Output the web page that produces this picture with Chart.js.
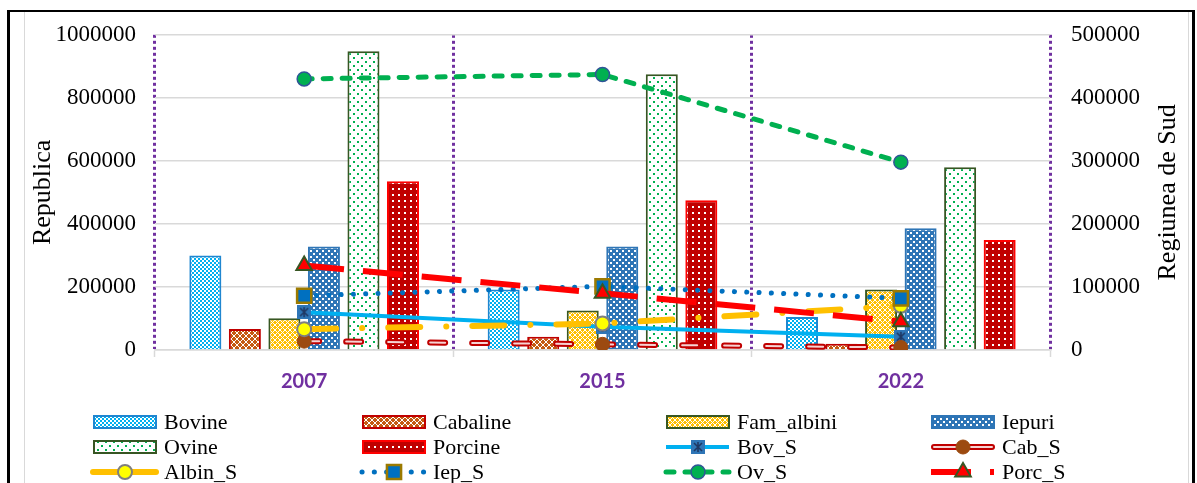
<!DOCTYPE html>
<html>
<head>
<meta charset="utf-8">
<script src="https://cdn.jsdelivr.net/npm/chart.js@4.4.1/dist/chart.umd.min.js"></script>
<style>
  html, body { margin: 0; padding: 0; background: #fff; }
  #wrap { position: relative; width: 1197px; height: 483px; overflow: hidden; }
  #c { position: absolute; left: 0; top: 0; }
  .frame { position: absolute; pointer-events: none; }
</style>
</head>
<body>
<div id="wrap">
  <canvas id="c" width="1197" height="483"></canvas>
  <div class="frame" style="left:7px;top:10px;width:1182px;height:500px;border-left:3px solid #000;border-top:2px solid #000;border-right:3px solid #000;"></div>
  <div class="frame" style="left:24px;top:12px;width:1163px;height:500px;border-left:1px solid #d9d9d9;border-right:1px solid #d9d9d9;"></div>
</div>
<script>
// categories
var years = ['2007', '2015', '2022'];

// Republica (left axis) - bars
var bovine    = [300000, 192000, 105000];
var cabaline  = [67000, 42000, 20000];
var famAlbini = [101000, 125000, 192000];
var iepuri    = [328000, 328000, 386000];
var ovine     = [948000, 875000, 580000];
var porcine   = [535000, 475000, 349000];

// Regiunea de Sud (right axis) - lines
var bovS   = [60000, 37000, 21000];
var cabS   = [14000, 9000, 4000];
var albinS = [33000, 42000, 70000];
var iepS   = [86000, 101000, 82000];
var ovS    = [430000, 437000, 298000];
var porcS  = [134000, 90000, 45000];

// tick labels
var leftTicks  = [0, 200000, 400000, 600000, 800000, 1000000];
var rightTicks = [0, 100000, 200000, 300000, 400000, 500000];

var leftTitle = 'Republica';
var rightTitle = 'Regiunea de Sud';

var ctx = document.getElementById('c').getContext('2d');

// small tiles used as bar fill patterns
function tile(size, bg, fg, dots, cross) {
  var t = document.createElement('canvas');
  t.width = t.height = size;
  var g = t.getContext('2d');
  g.fillStyle = bg;
  g.fillRect(0, 0, size, size);
  g.fillStyle = fg;
  dots.forEach(function (d) { g.fillRect(d[0], d[1], d[2], d[3]); });
  if (cross) {
    g.strokeStyle = fg;
    g.lineWidth = 1;
    g.beginPath();
    g.moveTo(0, 0); g.lineTo(size, size);
    g.moveTo(size, 0); g.lineTo(0, size);
    g.stroke();
  }
  return ctx.createPattern(t, 'repeat');
}

var patBov  = tile(4, '#ffffff', '#00B0F0', [[0, 0, 2, 2], [2, 2, 2, 2]]);
var patCab  = tile(6, '#C55A11', '#ffffff', [], true);
var patFam  = tile(5, '#FFC000', '#ffffff', [], true);
var patIep  = tile(6, '#2E75B6', '#ffffff', [[1, 1, 2, 2], [4, 4, 2, 2]]);
var patOv   = tile(8, '#ffffff', '#00B050', [[1, 1, 2, 2], [5, 5, 2, 2]]);
var patPorc = tile(6, '#C00000', '#ffffff', [[2, 2, 2, 2]]);

// star-in-square marker for Bov_S
var bovMark = document.createElement('canvas');
bovMark.width = bovMark.height = 14;
(function () {
  var g = bovMark.getContext('2d');
  g.fillStyle = '#2E75B6';
  g.fillRect(0, 0, 14, 14);
  g.strokeStyle = '#1F3864';
  g.lineWidth = 1.6;
  g.beginPath();
  g.moveTo(3, 3); g.lineTo(11, 11);
  g.moveTo(11, 3); g.lineTo(3, 11);
  g.moveTo(7, 2); g.lineTo(7, 12);
  g.stroke();
})();

function barSet(label, data, fill, border) {
  return {
    type: 'bar', label: label, data: data, yAxisID: 'y',
    backgroundColor: fill, borderColor: border, borderWidth: 2,
    barPercentage: 0.81, categoryPercentage: 0.795, order: 20
  };
}

function lineSet(label, data, color, width, dash, cap, marker, order) {
  return Object.assign({
    type: 'line', label: label, data: data, yAxisID: 'y2',
    borderColor: color, borderWidth: width, borderDash: dash,
    borderCapStyle: cap, fill: false, tension: 0, order: order
  }, marker);
}

var datasets = [
  barSet('Bovine', bovine, patBov, '#1F86D0'),
  barSet('Cabaline', cabaline, patCab, '#C00000'),
  barSet('Fam_albini', famAlbini, patFam, '#385723'),
  barSet('Iepuri', iepuri, patIep, '#2E75B6'),
  barSet('Ovine', ovine, patOv, '#375623'),
  barSet('Porcine', porcine, patPorc, '#FF0000'),
  lineSet('Bov_S', bovS, '#00B0F0', 4, [], 'butt',
    {pointStyle: bovMark, pointRadius: 7, pointBackgroundColor: '#2E75B6', pointBorderColor: '#1F3864', pointBorderWidth: 1}, 8),
  lineSet('Cab_S_outline', cabS, '#C00000', 6, [15, 27], 'round',
    {pointRadius: 0, legendSkip: true}, 7),
  lineSet('Cab_S', cabS, '#F6D3D3', 2, [15, 27], 'round',
    {pointStyle: 'circle', pointRadius: 7, pointBackgroundColor: '#9C4A10', pointBorderColor: '#9C4A10', pointBorderWidth: 1,
     outlineColor: '#C00000', outlineWidth: 6, legendDash: [22, 14]}, 6),
  lineSet('Albin_S', albinS, '#FFC000', 6, [32, 26, 0.1, 26], 'round',
    {pointStyle: 'circle', pointRadius: 7, pointBackgroundColor: '#FFFF00', pointBorderColor: '#7F7F7F', pointBorderWidth: 2,
     legendDash: []}, 5),
  lineSet('Iep_S', iepS, '#0070C0', 5, [0.1, 12.2], 'round',
    {pointStyle: 'rect', pointRadius: 10, pointBackgroundColor: '#0070C0', pointBorderColor: '#9C7A00', pointBorderWidth: 2.5}, 4),
  lineSet('Ov_S', ovS, '#00B050', 5, [8, 11], 'round',
    {pointStyle: 'circle', pointRadius: 7, pointBackgroundColor: '#00B050', pointBorderColor: '#2F5597', pointBorderWidth: 1.5}, 3),
  lineSet('Porc_S', porcS, '#FF0000', 6, [40, 19], 'butt',
    {pointStyle: 'triangle', pointRadius: 9, pointBackgroundColor: '#FF0000', pointBorderColor: '#375623', pointBorderWidth: 2}, 2)
];

// legend in a 4-column grid under the plot
var legendCols = [93, 362, 666, 931];
var legendTop = 422, legendRow = 25;

function drawMarker(g, ds, x, y) {
  var st = ds.pointStyle, r = ds.pointRadius;
  g.save();
  g.setLineDash([]);
  g.fillStyle = ds.pointBackgroundColor;
  g.strokeStyle = ds.pointBorderColor;
  g.lineWidth = ds.pointBorderWidth;
  if (st instanceof HTMLCanvasElement) {
    g.drawImage(st, x - st.width / 2, y - st.height / 2);
  } else if (st === 'rect') {
    var s = r * Math.SQRT1_2;
    g.beginPath(); g.rect(x - s, y - s, 2 * s, 2 * s); g.fill(); g.stroke();
  } else if (st === 'triangle') {
    g.beginPath();
    g.moveTo(x, y - r);
    g.lineTo(x + r * 0.866, y + r * 0.5);
    g.lineTo(x - r * 0.866, y + r * 0.5);
    g.closePath(); g.fill(); g.stroke();
  } else {
    g.beginPath(); g.arc(x, y, r, 0, Math.PI * 2); g.fill(); g.stroke();
  }
  g.restore();
}

var extras = {
  id: 'extras',
  afterDraw: function (chart) {
    var g = chart.ctx;
    var items = chart.data.datasets.filter(function (d) { return !d.legendSkip; });
    g.save();
    items.forEach(function (ds, i) {
      var x = legendCols[i % 4];
      var y = legendTop + Math.floor(i / 4) * legendRow;
      if (ds.type === 'bar') {
        g.fillStyle = ds.backgroundColor;
        g.fillRect(x, y - 7, 64, 14);
        g.strokeStyle = ds.borderColor;
        g.lineWidth = 2;
        g.setLineDash([]);
        g.strokeRect(x + 1, y - 6, 62, 12);
      } else {
        var dash = ds.legendDash || ds.borderDash;
        g.lineCap = ds.borderCapStyle;
        g.setLineDash(dash);
        if (ds.outlineColor) {
          g.strokeStyle = ds.outlineColor;
          g.lineWidth = ds.outlineWidth;
          g.beginPath(); g.moveTo(x + 3, y); g.lineTo(x + 61, y); g.stroke();
          g.strokeStyle = ds.borderColor;
          g.lineWidth = ds.borderWidth;
          g.beginPath(); g.moveTo(x + 3, y); g.lineTo(x + 61, y); g.stroke();
        } else {
          g.strokeStyle = ds.borderColor;
          g.lineWidth = ds.borderWidth;
          g.beginPath(); g.moveTo(x, y); g.lineTo(x + 63, y); g.stroke();
        }
        g.lineCap = 'butt';
        drawMarker(g, ds, x + 32, y);
      }
      g.setLineDash([]);
      g.fillStyle = '#000';
      g.font = '22px "Liberation Serif"';
      g.textAlign = 'left';
      g.textBaseline = 'middle';
      g.fillText(ds.label, x + 71, y + 1);
    });
    // right axis title, reading bottom to top
    var a = chart.chartArea;
    g.translate(chart.width - 29, (a.top + a.bottom) / 2);
    g.rotate(-Math.PI / 2);
    g.font = '26px "Liberation Serif"';
    g.textAlign = 'center';
    g.textBaseline = 'middle';
    g.fillStyle = '#000';
    g.fillText(rightTitle, 0, 0);
    g.restore();
  }
};

var tickFont = {family: 'Liberation Serif', size: 23};

var myChart = new Chart(ctx, {
  type: 'bar',
  data: { labels: years, datasets: datasets },
  plugins: [extras],
  options: {
    responsive: false,
    animation: false,
    layout: { padding: { top: 32, left: 0, right: 0, bottom: 0 } },
    plugins: { legend: { display: false }, tooltip: { enabled: false } },
    scales: {
      x: {
        offset: true,
        grid: {
          offset: true, color: '#7030A0', lineWidth: 3,
          tickColor: '#D9D9D9', tickWidth: 1.5, tickLength: 7, tickBorderDash: []
        },
        border: { color: '#D9D9D9', width: 1.5, dash: [3, 3] },
        ticks: {
          color: '#7030A0', padding: 13,
          font: {family: 'Lato', weight: 'bold', size: 20}
        },
        afterFit: function (s) { s.height = 133; }
      },
      y: {
        position: 'left',
        min: leftTicks[0], max: leftTicks[leftTicks.length - 1],
        grid: { color: '#D9D9D9', lineWidth: 1.5, drawTicks: false },
        border: { display: false },
        ticks: {
          stepSize: leftTicks[1] - leftTicks[0], color: '#000', padding: 19, font: tickFont,
          callback: function (v) { return String(v); }
        },
        title: {
          display: true, text: leftTitle, color: '#000',
          font: {family: 'Liberation Serif', size: 26}, padding: {top: 28, bottom: 0}
        },
        afterFit: function (s) { s.width = 155; }
      },
      y2: {
        position: 'right',
        min: rightTicks[0], max: rightTicks[rightTicks.length - 1],
        grid: { drawOnChartArea: false, drawTicks: false },
        border: { display: false },
        ticks: {
          stepSize: rightTicks[1] - rightTicks[0], color: '#000', padding: 21, font: tickFont,
          callback: function (v) { return String(v); }
        },
        afterFit: function (s) { s.width = 147; }
      }
    }
  }
});
</script>
</body>
</html>
